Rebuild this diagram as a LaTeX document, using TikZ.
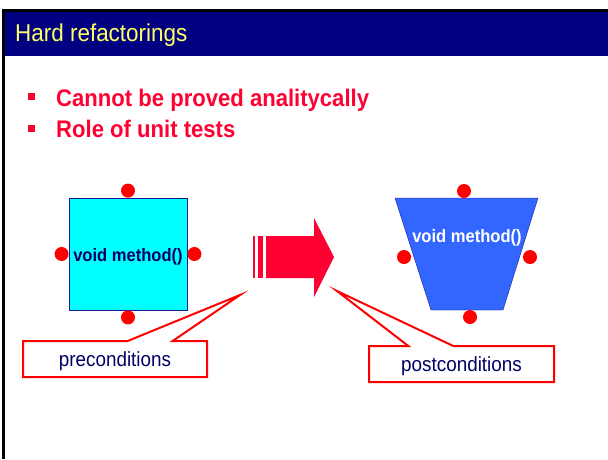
\documentclass[tikz,border=0pt]{standalone}
\usepackage{fontspec}
\setmainfont{Liberation Sans}
\newfontfamily\narrowfont[FakeStretch=0.92]{Liberation Sans}
\usetikzlibrary{shapes.callouts,positioning}

\definecolor{slidenavy}{HTML}{000080}
\definecolor{titleyellow}{HTML}{FFFF66}
\definecolor{bulletred}{HTML}{FF0033}
\definecolor{boxcyan}{HTML}{00FFFF}
\definecolor{boxblue}{HTML}{3366FF}
\definecolor{edgeblue}{HTML}{1A1A99}
\definecolor{textnavy}{HTML}{000066}

\tikzset{
  pin/.style={circle,fill=red,draw=none,minimum size=14pt,inner sep=0pt},
  bulletsq/.style={fill=bulletred,draw=none,minimum size=7pt,inner sep=0pt},
  bullettext/.style={anchor=base west,text=bulletred,font=\narrowfont\fontsize{24}{27}\selectfont\bfseries,inner sep=0pt},
  methodtext/.style={font=\narrowfont\fontsize{18}{21}\selectfont\bfseries,inner sep=0pt},
  condbox/.style={rectangle callout,draw=red,line width=2pt,fill=white,
    minimum width=184pt,minimum height=36pt,inner sep=0pt,text height=17pt,text depth=2pt,
    text=textnavy,font=\narrowfont\fontsize{20.5}{23}\selectfont,callout pointer width=45pt}
}

\begin{document}
\begin{tikzpicture}[x=1pt,y=-1pt]
  \useasboundingbox (0,0) rectangle (608,459);
  % title bar
  \fill[slidenavy] (3,12) rectangle (608,56);
  \draw[black,line width=2.5pt] (3.5,459) -- (3.5,10.5) -- (608,10.5);
  \node[anchor=base west,text=titleyellow,font=\narrowfont\fontsize{24.4}{27}\selectfont,inner sep=0pt] (title) at (15,41) {Hard refactorings};
  % bullets
  \node[bullettext] (b1) at (56,106) {Cannot be proved analitycally};
  \node[bullettext] (b2) at (56,137) {Role of unit tests};
  \node[bulletsq] (s1) at (31,96) {};
  \node[bulletsq] (s2) at (31,128) {};
  % left method box
  \node[draw=edgeblue,fill=boxcyan,minimum width=118pt,minimum height=112pt,inner sep=0pt] (old) at (128,254) {};
  \node[methodtext,text=textnavy] (oldtxt) at (128,257) {void method()};
  \node[pin,anchor=south] (old-n) at (old.north) {};
  \node[pin,anchor=north] (old-s) at (old.south) {};
  \node[pin,anchor=east] (old-w) at (old.west) {};
  \node[pin,anchor=west] (old-e) at (old.east) {};
  % right method box
  \coordinate (nw) at (395,198);
  \coordinate (ne) at (538,198);
  \coordinate (se) at (503,310);
  \coordinate (sw) at (431,310);
  \draw[edgeblue,fill=boxblue] (nw) -- (ne) -- (se) -- (sw) -- cycle;
  \node[methodtext,text=white] (newtxt) at (467,238) {void method()};
  \foreach \n/\p in {n/{(464,191)},s/{(470,317)},w/{(404,257)},e/{(530,257)}}
    \node[pin] (new-\n) at \p {};
  % refactoring arrow
  \fill[bulletred] (266,236) -- (314,236) -- (314,218) -- (334,257) -- (314,297) -- (314,278) -- (266,278) -- cycle;
  \fill[bulletred] (253.3,236) rectangle (254.8,278);
  \fill[bulletred] (258,236) rectangle (262.7,278);
  \coordinate (pretip) at (240,295);
  \coordinate (posttip) at (337,291);
  % callouts
  \node[condbox,callout absolute pointer={(pretip)}] (pre) at (115,359) {preconditions};
  \node[condbox,callout absolute pointer={(posttip)},minimum width=185pt] (post) at (461.5,364) {postconditions};
\end{tikzpicture}
\end{document}
